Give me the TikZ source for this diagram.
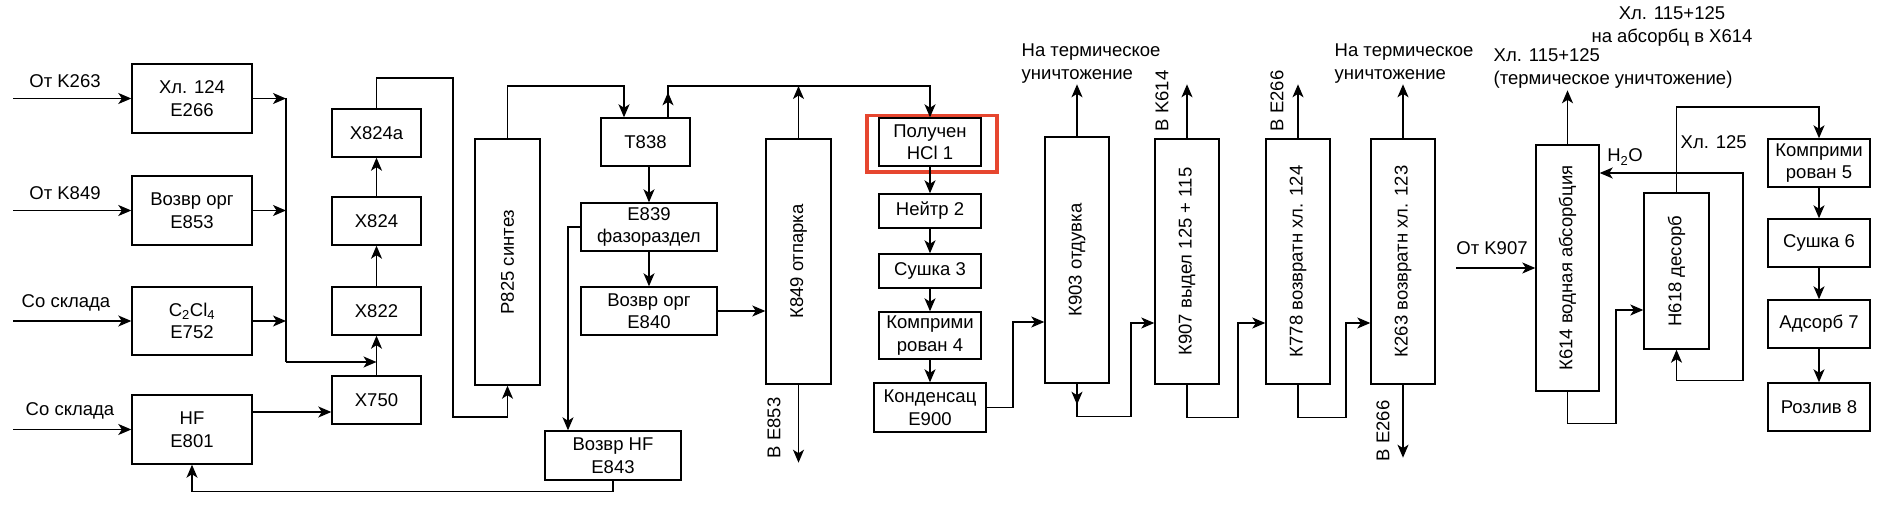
\documentclass[tikz,border=0pt]{standalone}
\usepackage{fontspec}
\setmainfont{Liberation Sans}
\usetikzlibrary{arrows.meta}

\definecolor{hlred}{HTML}{E6462F}

\begin{document}
\begin{tikzpicture}[x=1pt,y=-1pt,line width=1.4pt,>/.tip={Stealth[length=13pt,width=11pt,inset=3.5pt]},
	blk/.style={draw,align=center,inner sep=1pt,font=\fontsize{18.5}{22.5}\selectfont},
	lbl/.style={align=center,inner sep=0pt,font=\fontsize{18.5}{22.5}\selectfont}]
	\useasboundingbox (0,0) rectangle (1891,505);

	% sklad
	\node (e266) [blk,minimum width=120pt,minimum height=69pt] at (192,98.5) {Хл. 124\\Е266};
	\node (e853) [blk,minimum width=120pt,minimum height=69pt] at (192,210.5) {Возвр орг\\Е853};
	\node (e752) [blk,minimum width=120pt,minimum height=68pt] at (192,321) {C\textsubscript{2}Cl\textsubscript{4}\\Е752};
	\node (e801) [blk,minimum width=120pt,minimum height=69pt] at (192,429.5) {HF\\Е801};
	\node (l263) [lbl] at (65,81) {От K263};
	\node (l849) [lbl] at (65,193) {От K849};
	\node (lsk1) [lbl] at (66,303) {Со склада};
	\node (lsk2) [lbl] at (70,411) {Со склада};
	\coordinate (in1) at (13,98.5);
	\coordinate (in2) at (13,210.5);
	\coordinate (in3) at (13,321);
	\coordinate (in4) at (13,429.5);
	\coordinate (b1) at (286,98.5);
	\coordinate (b2) at (286,210.5);
	\coordinate (b3) at (286,321);
	\coordinate (b4) at (286,362);

	\node (x824a) [blk,minimum width=89pt,minimum height=48pt] at (376.5,133) {X824a};
	\node (x824) [blk,minimum width=89pt,minimum height=48pt] at (376.5,221) {X824};
	\node (x822) [blk,minimum width=89pt,minimum height=48pt] at (376.5,311) {X822};
	\node (x750) [blk,minimum width=89pt,minimum height=48pt] at (376.5,400) {X750};

	% sintez
	\node (p825) [blk,minimum width=65pt,minimum height=246pt] at (507.5,262) {\rotatebox{90}{Р825 синтез}};
	\node (t838) [blk,minimum width=89pt,minimum height=48pt] at (645.5,142) {Т838};
	\node (e839) [blk,minimum width=136pt,minimum height=48pt] at (649,227) {Е839\\фазораздел};
	\node (e840) [blk,minimum width=136pt,minimum height=48pt] at (649,311) {Возвр орг\\Е840};
	\node (e843) [blk,minimum width=136pt,minimum height=49pt] at (613,455.5) {Возвр HF\\Е843};
	\node (k849) [blk,minimum width=65pt,minimum height=245pt] at (798.5,261.5) {\rotatebox{90}{К849 отпарка}};
	\node (ve853) [lbl,rotate=90] at (774,428) {В Е853};
	\coordinate (t838a) at ([xshift=-21.5pt]t838.north);
	\coordinate (t838b) at ([xshift=22.5pt]t838.north);
	\coordinate (e843a) at ([xshift=-45pt]e843.north);

	% HCl
	\node (hcl1) [blk,minimum width=102pt,minimum height=48pt] at (930,142) {Получен\\HCl 1};
	\node (neitr2) [blk,minimum width=102pt,minimum height=34pt] at (930,211) {Нейтр 2};
	\node (sushka3) [blk,minimum width=102pt,minimum height=34pt] at (930,271) {Сушка 3};
	\node (kompr4) [blk,minimum width=102pt,minimum height=47pt] at (930,335.5) {Комприми\\рован 4};
	\node (e900) [blk,minimum width=112pt,minimum height=49pt] at (930,407.5) {Конденсац\\Е900};
	\draw[hlred,line width=3.5pt] (867,115.5) rectangle (997,172);

	% kolonny
	\node (k903) [blk,minimum width=64pt,minimum height=246pt] at (1077,260) {\rotatebox{90}{К903 отдувка}};
	\node (k907) [blk,minimum width=64pt,minimum height=245pt] at (1187,261.5) {\rotatebox{90}{К907 выдел 125 + 115}};
	\node (k778) [blk,minimum width=64pt,minimum height=245pt] at (1298,261.5) {\rotatebox{90}{К778 возвратн хл. 124}};
	\node (k263) [blk,minimum width=64pt,minimum height=245pt] at (1403,261.5) {\rotatebox{90}{К263 возвратн хл. 123}};
	\node (t903) [lbl,align=left,anchor=west] at (1021,63.7) {На термическое\\уничтожение};
	\node (t263) [lbl,align=left,anchor=west] at (1334,63.7) {На термическое\\уничтожение};
	\node (vk614) [lbl,rotate=90] at (1162,101) {В K614};
	\node (ve266a) [lbl,rotate=90] at (1277,101) {В Е266};
	\node (ve266b) [lbl,rotate=90] at (1383,431) {В Е266};

	% absorbciya
	\node (k614) [blk,minimum width=63pt,minimum height=246pt] at (1567.5,268) {\rotatebox{90}{К614 водная абсорбция}};
	\node (h618) [blk,minimum width=65pt,minimum height=156pt] at (1676.5,271) {\rotatebox{90}{Н618 десорб}};
	\node (kompr5) [blk,minimum width=102pt,minimum height=48pt] at (1819,163) {Комприми\\рован 5};
	\node (sushka6) [blk,minimum width=102pt,minimum height=48pt] at (1819,243) {Сушка 6};
	\node (adsorb7) [blk,minimum width=102pt,minimum height=48pt] at (1819,324) {Адсорб 7};
	\node (rozliv8) [blk,minimum width=102pt,minimum height=48pt] at (1819,407) {Розлив 8};
	\node (l907) [lbl] at (1492,248) {От K907};
	\node (t614) [lbl,align=left,anchor=west] at (1493,68.5) {Хл. 115+125\\(термическое уничтожение)};
	\node (t618) [lbl] at (1672,26.5) {Хл. 115+125\\на абсорбц в X614};
	\node (x125) [lbl,anchor=west] at (1680,142) {Хл. 125};
	\node (h2o) [lbl] at (1625,157) {H\textsubscript{2}O};
	\coordinate (in5) at (1456,268);

	% svyazi
	\draw[->] (in1) -- (e266);
	\draw[->] (in2) -- (e853);
	\draw[->] (in3) -- (e752);
	\draw[->] (in4) -- (e801);
	\draw[->] (e266) -- (b1);
	\draw[->] (e853) -- (b2);
	\draw[->] (e752) -- (b3);
	\draw (b1) -- (b4);
	\draw[->] (b4) -- (x750.north |- b4);
	\draw[->] (e801.east |- 0,412) -- (x750.west |- 0,412);
	\draw[->] (x750) -- (x822);
	\draw[->] (x822) -- (x824);
	\draw[->] (x824) -- (x824a);
	\draw[->] (x824a.north) |- (453,78) |- (p825.south |- 0,417) -- (p825.south);
	\draw[->] (p825.north) |- (t838a |- 0,86) -- (t838a);
	\draw[->] (t838b) -- ++(0,-25);
	\draw[->] (t838b) |- (hcl1.north |- 0,86) -- (hcl1);
	\draw[->] (k849.north) -- (k849.north |- 0,86);
	\draw[->] (t838.south -| e839) -- (e839);
	\draw[->] (e839) -- (e840);
	\draw[->] (e840) -- (e840 -| k849.west);
	\draw[->] (k849.south) -- ++(0,78);
	\draw[->] (e839.west) -| (e843a);
	\draw[->] (e843.south) -- ++(0,11) -| (e801.south);

	\draw[->] (hcl1) -- (neitr2);
	\draw[->] (neitr2) -- (sushka3);
	\draw[->] (sushka3) -- (kompr4);
	\draw[->] (kompr4) -- (e900);
	\draw[->] (e900.east) -| (1013,322) -- (k903.west |- 0,322);

	\draw[->] (k903.north) -- ++(0,-52);
	\draw[->] (k903.south) -- ++(0,21);
	\draw[->] (k903.south) -- ++(0,33) -| (1131,323) -- (k907.west |- 0,323);
	\draw[->] (k907.north) -- ++(0,-54);
	\draw[->] (k907.south) -- ++(0,33) -| (1238,323) -- (k778.west |- 0,323);
	\draw[->] (k778.north) -- ++(0,-54);
	\draw[->] (k778.south) -- ++(0,33) -| (1346,323) -- (k263.west |- 0,323);
	\draw[->] (k263.north) -- ++(0,-54);
	\draw[->] (k263.south) -- ++(0,73);

	\draw[->] (in5) -- (k614);
	\draw[->] (k614.north) -- ++(0,-54);
	\draw[->] (k614.south) -- ++(0,32) -| (1616,310) -- (h618.west |- 0,310);
	\draw[->] (h618.north) |- (kompr5.north |- 0,107) -- (kompr5);
	\draw[<->] (h618.south) -- ++(0,31) -| (1743,173) -- (k614.east |- 0,173);
	\draw[->] (kompr5) -- (sushka6);
	\draw[->] (sushka6) -- (adsorb7);
	\draw[->] (adsorb7) -- (rozliv8);
\end{tikzpicture}
\end{document}
